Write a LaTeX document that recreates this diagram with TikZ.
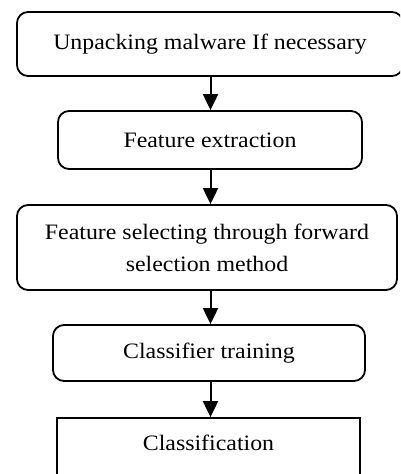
\documentclass[tikz,border=0pt]{standalone}
\usepackage{fontspec}
\setmainfont[FakeStretch=1.085]{Liberation Serif}
\usetikzlibrary{arrows.meta}
\begin{document}
\begin{tikzpicture}[x=1pt,y=-1pt,
  box/.style={draw,line width=1.8pt,rounded corners=11pt,inner sep=0pt,
    font=\fontsize{22}{32}\selectfont,align=center},
  sbox/.style={draw,line width=1.8pt,inner sep=0pt,font=\fontsize{22}{32}\selectfont},
  arr/.style={line width=2pt,-{Triangle[width=15pt,length=16pt]}}]
\clip (0,0) rectangle (400,474);
\fill[white] (0,0) rectangle (400,474);
\node[box,minimum width=386pt,minimum height=64pt] (b1) at (210,44) {Unpacking malware If necessary};
\node[box,minimum width=304pt,minimum height=58pt] (b2) at (210,140) {Feature extraction};
\node[box,minimum width=380pt,minimum height=85pt] (b3) at (207,247.5) {Feature selecting through forward\\selection method};
\node[box,minimum width=312pt,minimum height=56pt] (b4) at (209,353) {Classifier training};
\node[sbox,minimum width=303pt,minimum height=62pt,text depth=12pt] (b5) at (208.5,449) {Classification};
\coordinate (ax) at (210.5,0);
\draw[arr] (b1.south -| ax) -- (b2.north -| ax);
\draw[arr] (b2.south -| ax) -- (b3.north -| ax);
\draw[arr] (b3.south -| ax) -- (b4.north -| ax);
\draw[arr] (b4.south -| ax) -- (b5.north -| ax);
\end{tikzpicture}
\end{document}
